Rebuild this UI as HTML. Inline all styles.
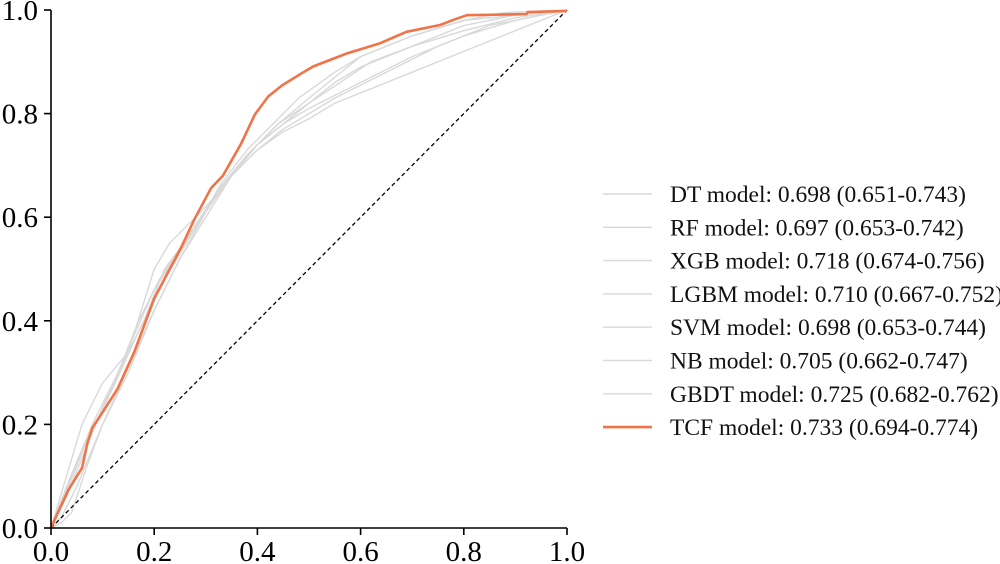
<!DOCTYPE html>
<html><head><meta charset="utf-8"><style>
html,body{margin:0;padding:0;background:#fff;}
svg{display:block;font-family:"Liberation Serif",serif;}
</style></head><body>
<svg id="chart" width="1000" height="564">
<g id="grays"></g>
<g id="main"></g>
<g id="axes"></g>
<g id="legend"></g>
</svg>
<script>
const modelNames = ["DT","RF","XGB","LGBM","SVM","NB","GBDT","TCF"];
const aucLabels = ["0.698 (0.651-0.743)","0.697 (0.653-0.742)","0.718 (0.674-0.756)","0.710 (0.667-0.752)","0.698 (0.653-0.744)","0.705 (0.662-0.747)","0.725 (0.682-0.762)","0.733 (0.694-0.774)"];
const xTicks = [0,0.2,0.4,0.6,0.8,1.0];
const yTicks = [0,0.2,0.4,0.6,0.8,1.0];
const dtCurve = [[0,0],[.02,.02],[.05,.08],[.1,.2],[.15,.3],[.2,.42],[.25,.52],[.3,.61],[.35,.68],[.4,.74],[.45,.78],[.5,.81],[.6,.86],[.7,.91],[.8,.95],[.9,.98],[1,1]];
const rfCurve = [[0,0],[.03,.06],[.07,.16],[.12,.28],[.18,.4],[.22,.5],[.28,.58],[.34,.67],[.4,.73],[.45,.77],[.5,.8],[.55,.83],[.65,.88],[.75,.93],[.85,.97],[1,1]];
const xgbCurve = [[0,0],[.03,.08],[.08,.2],[.13,.3],[.17,.4],[.21,.48],[.27,.57],[.33,.66],[.38,.72],[.44,.78],[.5,.83],[.55,.87],[.6,.91],[.7,.95],[.8,.98],[.9,.99],[1,1]];
const lgbmCurve = [[0,0],[.02,.05],[.06,.15],[.11,.25],[.16,.37],[.2,.46],[.26,.55],[.32,.64],[.38,.72],[.44,.78],[.5,.82],[.56,.86],[.62,.9],[.7,.93],[.8,.96],[.9,.985],[1,1]];
const svmCurve = [[0,0],[.02,.01],[.04,.03],[.07,.12],[.1,.2],[.15,.31],[.2,.42],[.25,.52],[.3,.6],[.35,.68],[.4,.73],[.45,.765],[.5,.79],[.55,.82],[.6,.84],[.7,.88],[.8,.92],[.9,.96],[1,1]];
const nbCurve = [[0,0],[.03,.1],[.06,.2],[.1,.28],[.15,.34],[.2,.5],[.23,.55],[.3,.62],[.35,.68],[.4,.74],[.45,.78],[.5,.82],[.55,.86],[.6,.89],[.7,.93],[.8,.97],[.9,.99],[1,1]];
const gbdtCurve = [[0,0],[.03,.07],[.07,.17],[.12,.27],[.17,.38],[.22,.48],[.28,.58],[.33,.665],[.38,.73],[.43,.78],[.48,.83],[.55,.88],[.6,.91],[.7,.95],[.8,.98],[.88,.995],[1,1]];
const tcfCurve = [[0,0],[.015,.033],[.034,.074],[.06,.116],[.071,.165],[.08,.193],[.103,.228],[.129,.269],[.161,.339],[.2,.443],[.252,.541],[.278,.596],[.31,.656],[.333,.68],[.349,.708],[.369,.743],[.395,.798],[.421,.833],[.447,.854],[.486,.878],[.508,.891],[.573,.916],[.638,.936],[.689,.958],[.754,.971],[.78,.981],[.806,.99],[.922,.992],[.924,.996],[1,.998]];

const NS="http://www.w3.org/2000/svg";
const X0=51,X1=567,Y0=528,Y1=10;
const sx=v=>X0+v*(X1-X0);
const sy=v=>Y0-v*(Y0-Y1);
function mk(tag,attrs,parent){const e=document.createElementNS(NS,tag);for(const k in attrs)e.setAttribute(k,attrs[k]);parent.appendChild(e);return e;}
function pathOf(pts){return pts.map((p,i)=>(i?"L":"M")+sx(p[0]).toFixed(1)+","+sy(p[1]).toFixed(1)).join("");}

const grays=document.getElementById("grays");
const grayCurves=[dtCurve,rfCurve,xgbCurve,lgbmCurve,svmCurve,nbCurve,gbdtCurve];
grayCurves.forEach((c,i)=>{
  const p=mk("path",{d:pathOf(c),fill:"none",stroke:"#d9d9d9","stroke-width":"1.4","stroke-linejoin":"round"},grays);
  
  
});
const main=document.getElementById("main");
const diag=mk("line",{x1:sx(0),y1:sy(0),x2:sx(1),y2:sy(1),stroke:"#000","stroke-width":"1.3","stroke-dasharray":"4,3"},main);


const tcf=mk("path",{d:pathOf(tcfCurve),fill:"none",stroke:"#f07448","stroke-width":"2.6","stroke-linejoin":"round"},main);



const axes=document.getElementById("axes");
const ya=mk("line",{x1:X0,y1:Y1,x2:X0,y2:Y0,stroke:"#000","stroke-width":"1.6"},axes);


const xa=mk("line",{x1:X0,y1:Y0,x2:X1,y2:Y0,stroke:"#000","stroke-width":"1.6"},axes);


xTicks.forEach(v=>{
  const t=mk("line",{x1:sx(v),y1:Y0,x2:sx(v),y2:Y0+7,stroke:"#000","stroke-width":"1.6"},axes);
  
  
  const l=mk("text",{x:sx(v),y:Y0+33,"text-anchor":"middle","font-size":"29",fill:"#000"},axes);
  l.textContent=v.toFixed(1);
  
  
});
yTicks.forEach(v=>{
  const t=mk("line",{x1:X0-7,y1:sy(v),x2:X0,y2:sy(v),stroke:"#000","stroke-width":"1.6"},axes);
  
  
  const l=mk("text",{x:X0-13,y:sy(v)+10,"text-anchor":"end","font-size":"29",fill:"#000"},axes);
  l.textContent=v.toFixed(1);
  
  
});

const legend=document.getElementById("legend");
modelNames.forEach((n,i)=>{
  const y=194+i*33.3;
  const isT=n==="TCF";
  const ln=mk("line",{x1:603,y1:y,x2:652,y2:y,stroke:isT?"#f07448":"#d9d9d9","stroke-width":isT?"2.6":"1.4"},legend);
  
  
  const t=mk("text",{x:670,y:y+8,"font-size":"23.5",fill:"#111"},legend);
  t.textContent=n+" model: "+aucLabels[i];
  
  
});
</script>
</body></html>
